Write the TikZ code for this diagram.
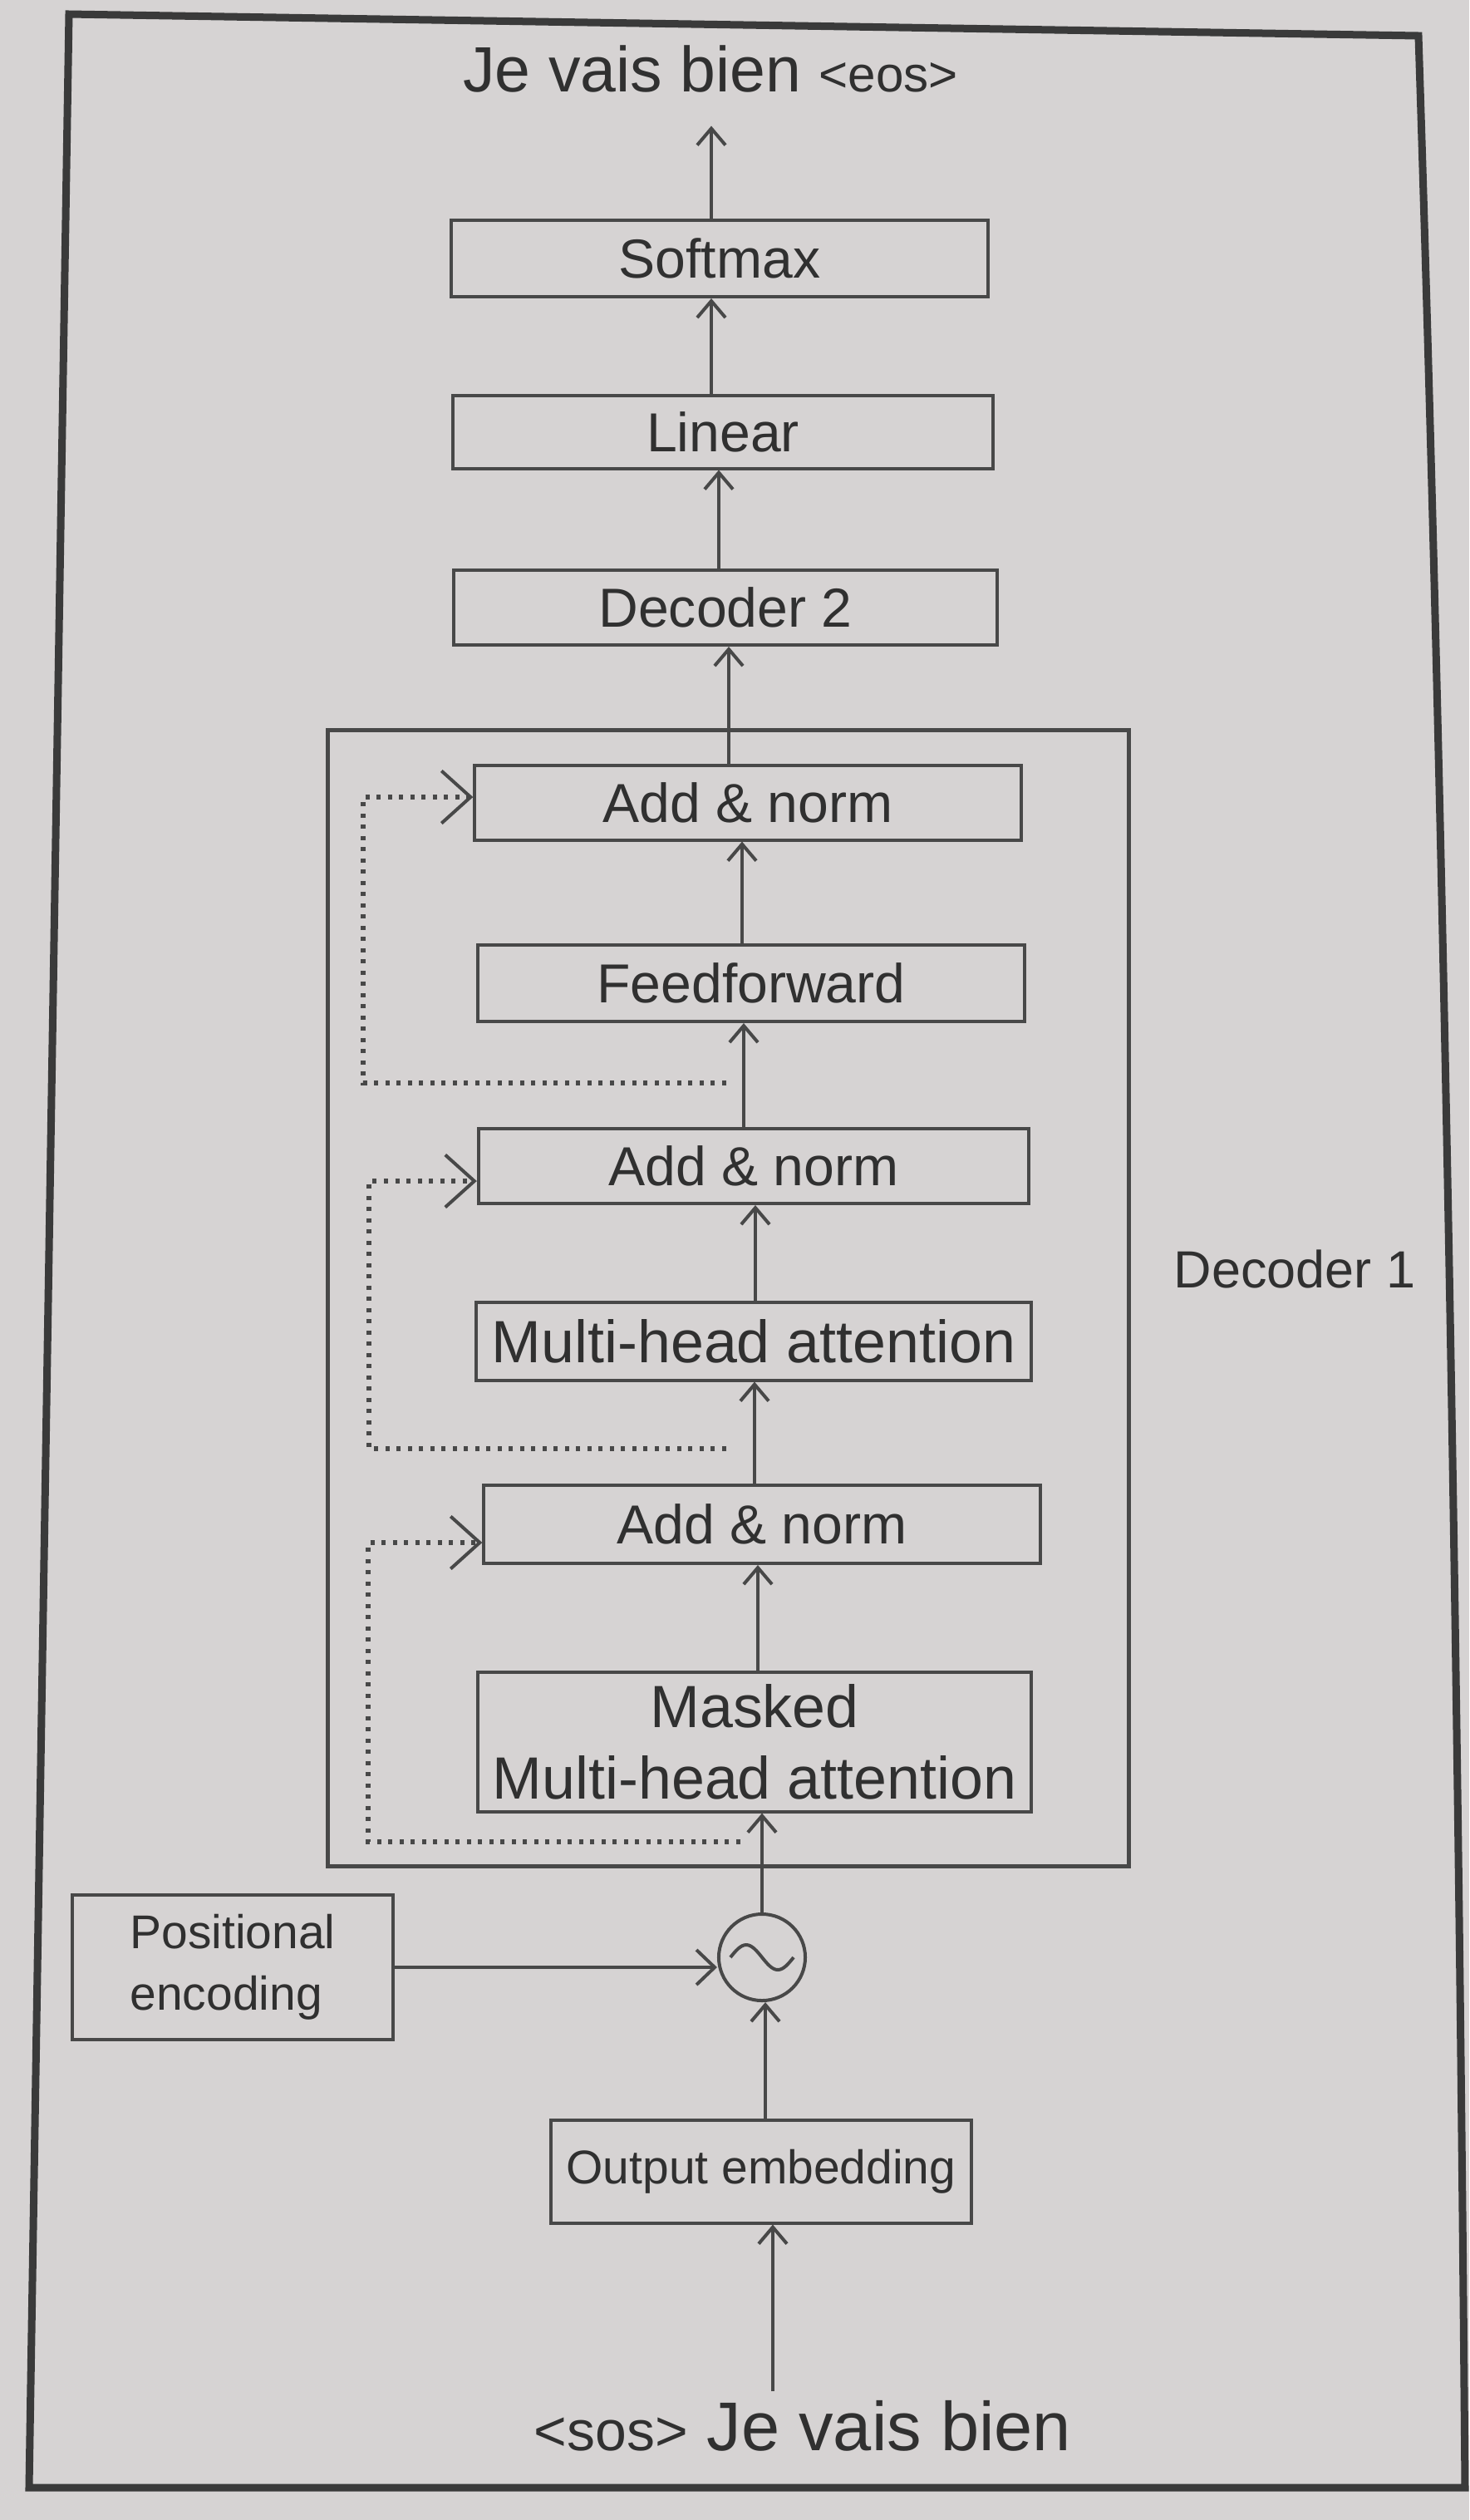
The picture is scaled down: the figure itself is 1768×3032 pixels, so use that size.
\documentclass[tikz,border=0pt]{standalone}
\usepackage{fontspec}
\setmainfont{Liberation Sans}
\usetikzlibrary{arrows.meta}
\definecolor{paper}{HTML}{D6D3D3}
\definecolor{ink}{HTML}{484848}
\definecolor{txt}{HTML}{303030}
\newcommand\fsbox{\fontsize{18.8pt}{22pt}\selectfont}
\newcommand\fsmha{\fontsize{20.4pt}{24.5pt}\selectfont}
\newcommand\fsdecone{\fontsize{17.9pt}{21pt}\selectfont}
\newcommand\fssmall{\fontsize{16.2pt}{21pt}\selectfont}
\newcommand\fstop{\fontsize{21.9pt}{26pt}\selectfont}
\newcommand\fseos{\fontsize{17.1pt}{20pt}\selectfont}
\newcommand\fsbot{\fontsize{23.6pt}{28pt}\selectfont}
\newcommand\fssos{\fontsize{19.3pt}{23pt}\selectfont}
\begin{document}
\begin{tikzpicture}[x=0.01cm,y=-0.01cm,
  box/.style={draw=ink, line width=0.04cm, inner sep=0pt, text=txt, font=\fsbox, align=center},
  lbl/.style={inner sep=0pt, text=txt},
  arr/.style={draw=ink, line width=0.04cm, -{Straight Barb[length=0.2cm,width=0.34cm]}},
  sidearr/.style={draw=ink, line width=0.04cm, -{Straight Barb[length=0.22cm,width=0.42cm]}},
  res/.style={draw=ink, line width=0.055cm, dash pattern=on 0.05cm off 0.085cm, -{Straight Barb[length=0.35cm,width=0.63cm,line width=0.04cm]}}]
\useasboundingbox (0,0) rectangle (1768,3032);
\fill[paper] (0,0) rectangle (1768,3032);
% outer frame of the page figure
\draw[draw=ink!80!black, line width=0.09cm, line join=miter] (83,17) -- (1707,43) .. controls (1738,1000) and (1755,2000) .. (1763,2993) -- (35,2993) -- cycle;

% decoder 1 frame
\node[draw=ink, line width=0.045cm, minimum width=9.63cm, minimum height=13.66cm, inner sep=0pt] (dec1) at (876.5,1562) {};
\node[lbl, font=\fsdecone] (dec1lbl) at (1558,1527) {Decoder 1};

% boxes
\node[box, minimum width=6.45cm, minimum height=0.92cm] (sm) at (866,311) {Softmax};
\node[box, minimum width=6.50cm, minimum height=0.87cm] (lin) at (870,520) {Linear};
\node[box, minimum width=6.54cm, minimum height=0.90cm] (dec2) at (873,731) {Decoder 2};
\node[box, minimum width=6.57cm, minimum height=0.89cm] (an1) at (900,966) {Add \& norm};
\node[box, minimum width=6.58cm, minimum height=0.92cm] (ff) at (904,1183) {Feedforward};
\node[box, minimum width=6.62cm, minimum height=0.90cm] (an2) at (907,1403) {Add \& norm};
\node[box, minimum width=6.68cm, minimum height=0.93cm, font=\fsmha] (mha) at (907,1614) {Multi-head attention};
\node[box, minimum width=6.69cm, minimum height=0.94cm] (an3) at (917,1834) {Add \& norm};
\node[box, minimum width=6.66cm, minimum height=1.67cm, font=\fsmha] (mm) at (908,2096) {Masked\\Multi-head attention};
\node[draw=ink, line width=0.04cm, circle, minimum size=1.04cm, inner sep=0pt] (circ) at (917,2355) {};
\node[box, minimum width=3.85cm, minimum height=1.73cm, font=\fssmall, align=left] (pe) at (280,2367) {Positional\\encoding};
\node[box, minimum width=5.05cm, minimum height=1.23cm, font=\fssmall] (oe) at (916,2613) {Output embedding};

% texts
\node[lbl, anchor=base, font=\fstop] (top) at (855,110) {Je vais bien {\fseos<eos>}};
\node[lbl, anchor=base, font=\fsbot] (bot) at (966,2948) {{\fssos<sos>} Je vais bien};

% sine symbol in the circle
\draw[ink, line width=0.04cm] ([xshift=-0.38cm]circ.center) sin ++(0.19cm,0.15cm) cos ++(0.19cm,-0.15cm) sin ++(0.19cm,-0.15cm) cos ++(0.19cm,0.15cm);

% main flow
\draw[arr] ([xshift=-0.36cm,yshift=0.1cm]bot.north) -- ([xshift=-0.36cm]bot.north |- oe.south);
\draw[arr] ([xshift=0.05cm]oe.north) -- ([xshift=0.05cm]oe.north |- circ.south);
\draw[sidearr] (pe.east) -- (pe.east -| circ.west);
\draw[arr] (circ.north) -- (circ.north |- mm.south);
\draw[arr] ([xshift=0.04cm]mm.north) -- ([xshift=0.04cm]mm.north |- an3.south);
\draw[arr] ([xshift=-0.09cm]an3.north) -- ([xshift=-0.09cm]an3.north |- mha.south);
\draw[arr] ([xshift=0.02cm]mha.north) -- ([xshift=0.02cm]mha.north |- an2.south);
\draw[arr] ([xshift=-0.12cm]an2.north) -- ([xshift=-0.12cm]an2.north |- ff.south);
\draw[arr] ([xshift=-0.11cm]ff.north) -- ([xshift=-0.11cm]ff.north |- an1.south);
\draw[arr] ([xshift=-0.23cm]an1.north) -- ([xshift=-0.23cm]an1.north |- dec2.south);
\draw[arr] ([xshift=-0.08cm]dec2.north) -- ([xshift=-0.08cm]dec2.north |- lin.south);
\draw[arr] ([xshift=-0.14cm]lin.north) -- ([xshift=-0.14cm]lin.north |- sm.south);
\draw[arr, shorten >=0.4cm] ([xshift=-0.10cm]sm.north) -- ([xshift=-0.10cm]sm.north |- top.south);

% residual connections
\coordinate (r1s) at (874,1303);
\coordinate (r1c) at (437,959);
\coordinate (r2s) at (874,1743);
\coordinate (r2c) at (444,1421);
\coordinate (r3s) at (891,2216);
\coordinate (r3c) at (443,1856);
\draw[res] (r1s) -| (r1c) -- (an1.west |- r1c);
\draw[res] (r2s) -| (r2c) -- (an2.west |- r2c);
\draw[res] (r3s) -| (r3c) -- (an3.west |- r3c);
\end{tikzpicture}
\end{document}
